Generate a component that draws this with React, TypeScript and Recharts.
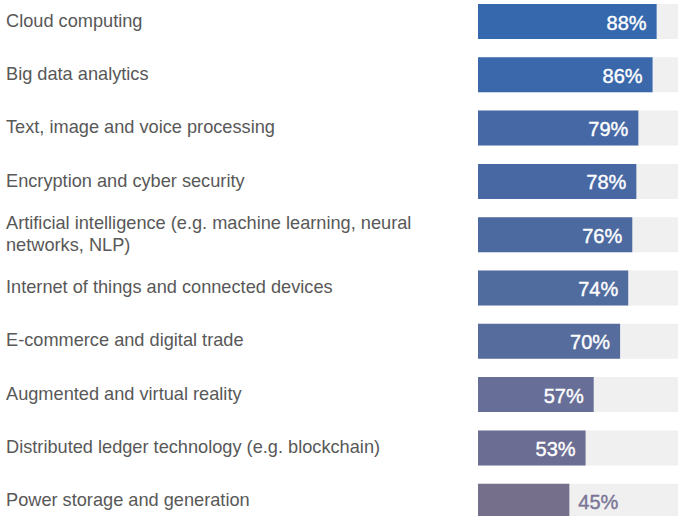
import React from "react";
import { BarChart, Bar, XAxis, YAxis, Cell, LabelList } from "recharts";

const CATEGORIES = [
  "Cloud computing",
  "Big data analytics",
  "Text, image and voice processing",
  "Encryption and cyber security",
  "Artificial intelligence (e.g. machine learning, neural\nnetworks, NLP)",
  "Internet of things and connected devices",
  "E-commerce and digital trade",
  "Augmented and virtual reality",
  "Distributed ledger technology (e.g. blockchain)",
  "Power storage and generation",
];

const VALUES = [88, 86, 79, 78, 76, 74, 70, 57, 53, 45];

const COLORS = [
  "#3568ad",
  "#3a68ab",
  "#4668a5",
  "#4868a4",
  "#4d6aa0",
  "#506b9e",
  "#566c9c",
  "#676e97",
  "#6c6d93",
  "#766f8b",
];

const data = CATEGORIES.map((name, i) => ({ name, value: VALUES[i] }));

const FONT = "'Liberation Sans', Arial, sans-serif";

// category labels, left aligned at the page edge
const CategoryTick = ({ y, payload }: any) => {
  const lines = String(payload.value).split("\n");
  const lh = 22;
  const start = y - 1 - ((lines.length - 1) * lh) / 2;
  return (
    <text
      x={6}
      y={start}
      fill="#585858"
      fontSize={18.2}
      fontFamily={FONT}
      dominantBaseline="central"
      textAnchor="start"
    >
      {lines.map((l, i) => (
        <tspan key={i} x={6} y={start + i * lh}>
          {l}
        </tspan>
      ))}
    </text>
  );
};

const ValueLabel = ({ x, y, width, height, value }: any) => {
  const inside = value >= 50;
  const color = inside ? "#ffffff" : "#7a7596";
  return (
    <text
      x={inside ? x + width - 10 : x + width + 9}
      y={y + height / 2 + 1}
      textAnchor={inside ? "end" : "start"}
      dominantBaseline="central"
      fill={color}
      stroke={color}
      strokeWidth={0.4}
      fontSize={20}
      fontFamily={FONT}
    >
      {value}%
    </text>
  );
};

export default function App() {
  return (
    <div
      style={{
        position: "fixed",
        left: 0,
        top: 0,
        width: 678,
        height: 516,
        overflow: "hidden",
        background: "#ffffff",
      }}
    >
      <div style={{ position: "absolute", left: 0, top: -5 }}>
        <BarChart
          width={681}
          height={533}
          data={data}
          layout="vertical"
          margin={{ top: 0, right: 0, bottom: 0, left: 0 }}
        >
          <XAxis type="number" domain={[0, 100]} hide />
          <YAxis
            type="category"
            dataKey="name"
            width={478}
            axisLine={false}
            tickLine={false}
            tick={<CategoryTick />}
            interval={0}
          />
          <Bar
            dataKey="value"
            barSize={35}
            background={{ fill: "#f0f0f0" }}
            isAnimationActive={false}
          >
            {data.map((d, i) => (
              <Cell key={d.name} fill={COLORS[i]} />
            ))}
            <LabelList dataKey="value" content={<ValueLabel />} />
          </Bar>
        </BarChart>
      </div>
    </div>
  );
}
